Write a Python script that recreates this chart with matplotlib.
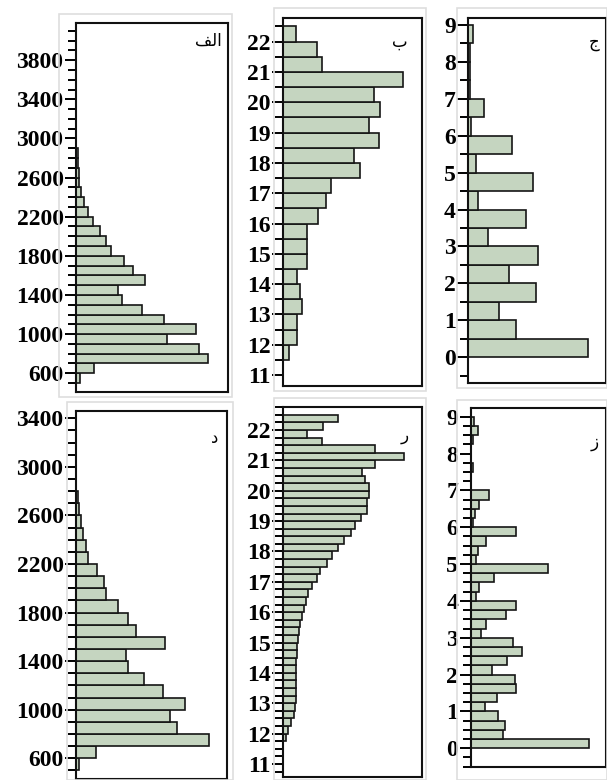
import numpy as np
import matplotlib
matplotlib.use('Agg')
import matplotlib.pyplot as plt
from matplotlib.patches import Rectangle
from matplotlib.ticker import MultipleLocator

# bar lengths (relative counts), listed bottom -> top
alef_edges = np.arange(500, 3000, 100)
alef_vals = [12, 54, 397, 370, 274, 360, 264, 197, 137, 127, 207, 170, 144,
             105, 90, 72, 52, 37, 25, 15, 10, 10, 5, 5]

be_edges = np.arange(11.5, 23.0, 0.5)
be_vals = [18, 42, 42, 57, 50, 40, 70, 70, 70, 105, 128, 142, 230, 213,
           287, 258, 290, 272, 358, 115, 100, 37]

jim_edges = np.arange(0, 9.5, 0.5)
jim_vals = [360, 142, 92, 202, 122, 210, 60, 172, 30, 195, 23, 132, 8, 48,
            4, 4, 4, 15]

dal_edges = np.arange(500, 2900, 100)
dal_vals = [10, 59, 397, 302, 280, 327, 260, 205, 157, 150, 267, 180, 157,
            125, 90, 84, 62, 35, 30, 20, 15, 10, 5]

re_edges = np.arange(11.75, 22.75, 0.25)
re_vals = [7, 14, 24, 32, 35, 37, 37, 37, 37, 37, 37, 40, 42, 45, 47, 50,
           57, 62, 67, 75, 85, 99, 110, 129, 144, 162, 182, 202, 214, 232,
           250, 250, 254, 254, 242, 234, 274, 360, 274, 115, 72, 119, 162]

ze_edges = np.arange(0, 9.25, 0.25)
ze_vals = [358, 98, 103, 83, 43, 78, 136, 133, 65, 110, 156, 128, 31, 45,
           105, 138, 16, 26, 71, 233, 16, 23, 45, 138, 8, 13, 26, 56, 1, 2,
           8, 2, 2, 8, 23, 10]

labels = ['\ufed2\ufedf\u0627', 'ب', 'ج', 'د', 'ر', 'ز']

W, H = 607, 780
fig = plt.figure(figsize=(W / 100, H / 100), dpi=100)
fig.patch.set_facecolor('white')

# light grey frames of the original screenshots
for (x0, y0, x1, y1) in [(59, 14, 232, 397), (274, 8, 426, 391), (457, 8, 607, 388),
                         (67, 402, 233, 780), (274, 398, 426, 780), (457, 400, 607, 780)]:
    fig.add_artist(Rectangle((x0 / W, 1 - y1 / H), (x1 - x0) / W, (y1 - y0) / H,
                             transform=fig.transFigure, fill=False,
                             ec='#dedede', lw=1.2))


def panel(rect, edges, vals, binw, ylim, xmax, major, offset, minor, label, lx, ly):
    x0, y0, x1, y1 = rect
    ax = fig.add_axes([x0 / W, 1 - y1 / H, (x1 - x0) / W, (y1 - y0) / H])
    ax.barh(edges[:len(vals)], vals, height=binw, align='edge',
            color='#c5d5c0', edgecolor='#151515', linewidth=1.2)
    ax.set_ylim(*ylim)
    ax.set_xlim(0, xmax)
    ax.set_xticks([])
    ax.yaxis.set_major_locator(MultipleLocator(major, offset=offset))
    ax.yaxis.set_minor_locator(MultipleLocator(minor))
    ax.tick_params(axis='y', which='major', length=8, width=1.4, pad=1,
                   labelsize=17)
    ax.tick_params(axis='y', which='minor', length=5.5, width=1.4)
    for t in ax.get_yticklabels():
        t.set_fontfamily('Liberation Serif')
        t.set_fontweight('bold')
    for s in ax.spines.values():
        s.set_linewidth(1.5)
        s.set_color('#111111')
    ax.text(lx, ly, label, transform=ax.transAxes, ha='right', va='top',
            fontsize=12, family=['DejaVu Sans'])
    return ax


panel((76, 22.5, 228, 392), alef_edges, alef_vals, 100, (408, 4185), 456,
      400, 200, 100, labels[0], 0.96, 0.975)
panel((283.3, 18.3, 421.7, 386), be_edges, be_vals, 0.5, (10.64, 22.77), 415,
      1, 0, 0.5, labels[1], 0.90, 0.96)
panel((468.3, 18.3, 606, 383), jim_edges, jim_vals, 0.5, (-0.70, 9.18), 413,
      1, 0, 0.5, labels[2], 0.95, 0.96)
panel((76, 410.7, 227, 779), dal_edges, dal_vals, 100, (430, 3463), 452,
      400, 200, 100, labels[3], 0.94, 0.95)
panel((283.3, 407.3, 421.7, 777), re_edges, re_vals, 0.25, (10.57, 22.75), 412,
      1, 0, 0.25, labels[4], 0.91, 0.95)
panel((470.7, 408.3, 606, 767), ze_edges, ze_vals, 0.25, (-0.51, 9.23), 408,
      1, 0, 0.25, labels[5], 0.95, 0.93)

fig.savefig('out.png', dpi=100, facecolor='white')
